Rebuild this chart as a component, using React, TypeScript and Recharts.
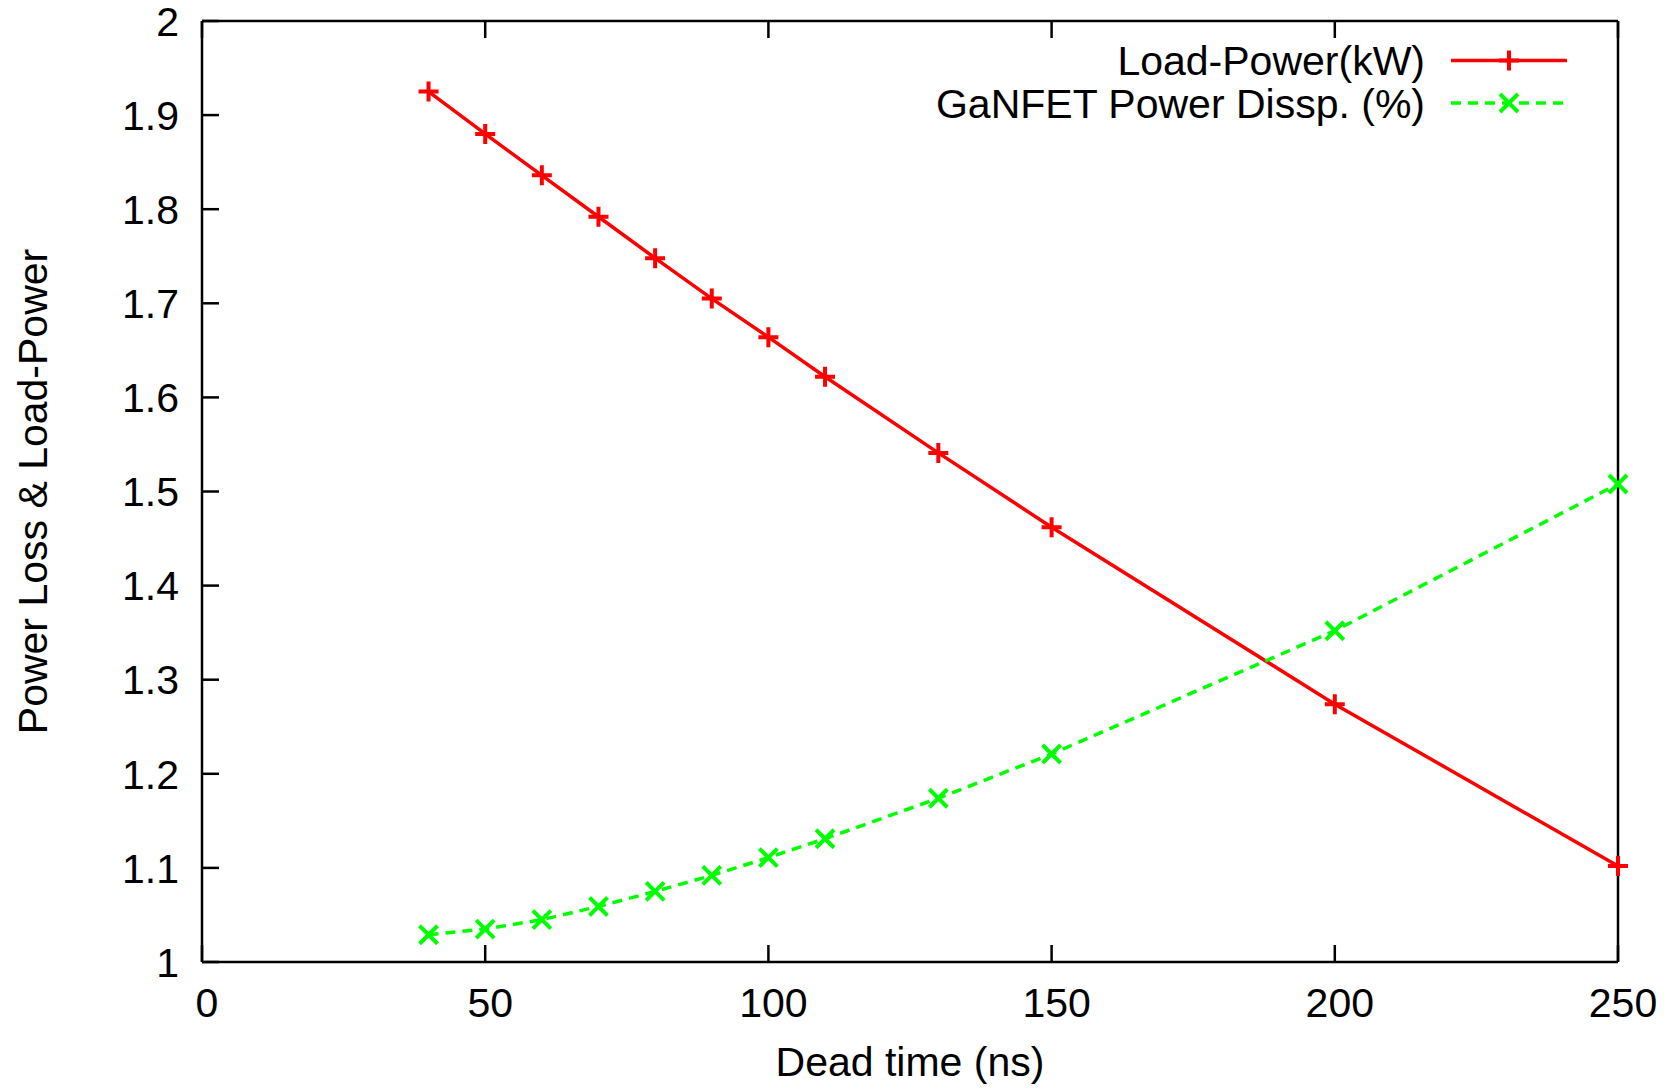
import React from 'react';
import { LineChart, Line, XAxis, YAxis, Legend } from 'recharts';

const deadTime = [40, 50, 60, 70, 80, 90, 100, 110, 130, 150, 200, 250];
const loadPower = [1.925, 1.880, 1.836, 1.792, 1.748, 1.705, 1.664, 1.622, 1.541, 1.462, 1.274, 1.102];
const ganfetDiss = [1.029, 1.035, 1.045, 1.059, 1.075, 1.092, 1.111, 1.131, 1.174, 1.221, 1.352, 1.508];

const xTicks = [0, 50, 100, 150, 200, 250];
const yTicks = [1, 1.1, 1.2, 1.3, 1.4, 1.5, 1.6, 1.7, 1.8, 1.9, 2];

const seriesNames = ['Load-Power(kW)', 'GaNFET Power Dissp. (%)'];
const seriesColors = ['#ff0000', '#00ff00'];

const data = deadTime.map((t, i) => ({ t, load: loadPower[i], gan: ganfetDiss[i] }));

const FONT = '"Liberation Sans", Arial, sans-serif';
const FS = 41;
const TICK = 17;
const LW = 3.5;

const Plus = ({ cx, cy, color }: any) => (
  <path d={`M${cx - 10},${cy}H${cx + 10}M${cx},${cy - 10}V${cy + 10}`} stroke={color} strokeWidth={4} fill="none" />
);
const Cross = ({ cx, cy, color }: any) => (
  <path d={`M${cx - 9},${cy - 9}L${cx + 9},${cy + 9}M${cx - 9},${cy + 9}L${cx + 9},${cy - 9}`} stroke={color} strokeWidth={4} fill="none" />
);

const LeftTick = ({ x, y, payload }: any) => (
  <g>
    <line x1={x} x2={x + TICK} y1={y} y2={y} stroke="#000" strokeWidth={2.5} />
    <text x={x - 23} y={y} dy="0.36em" textAnchor="end" fontFamily={FONT} fontSize={FS} fill="#000">
      {String(payload.value)}
    </text>
  </g>
);
const RightTick = ({ x, y }: any) => <line x1={x} x2={x - TICK} y1={y} y2={y} stroke="#000" strokeWidth={2.5} />;
const BottomTick = ({ x, y, payload }: any) => (
  <g>
    <line x1={x} x2={x} y1={y} y2={y - TICK} stroke="#000" strokeWidth={2.5} />
    <text x={x + 5} y={y + 55} textAnchor="middle" fontFamily={FONT} fontSize={FS} fill="#000">
      {String(payload.value)}
    </text>
  </g>
);
const TopTick = ({ x, y }: any) => <line x1={x} x2={x} y1={y} y2={y + TICK} stroke="#000" strokeWidth={2.5} />;

const LegendBox = () => (
  <svg width={600} height={90} style={{ overflow: 'visible' }}>
    {seriesNames.map((name, i) => {
      const cy = 22.5 + i * 42.5;
      return (
        <g key={name}>
          <text x={425} y={cy} dy="0.36em" textAnchor="end" fontFamily={FONT} fontSize={FS} fill="#000">{name}</text>
          <line x1={451} x2={567} y1={cy} y2={cy} stroke={seriesColors[i]} strokeWidth={LW} strokeDasharray={i === 1 ? '10 7' : undefined} />
          {i === 0 ? <Plus cx={509} cy={cy} color={seriesColors[i]} /> : <Cross cx={509} cy={cy} color={seriesColors[i]} />}
        </g>
      );
    })}
  </svg>
);

export default function App() {
  return (
    <div style={{ position: 'absolute', left: 0, top: 0, width: 1665, height: 1088, background: '#fff' }}>
      <LineChart width={1665} height={1088} data={data} margin={{ top: 20, right: 46, bottom: 0, left: 0 }}>
        <XAxis
          dataKey="t"
          type="number"
          domain={[0, 250]}
          ticks={xTicks}
          height={126}
          tickSize={0}
          tickMargin={0}
          tickLine={false}
          tick={<BottomTick />}
          axisLine={{ stroke: '#000', strokeWidth: 2.5 }}
          label={{ value: 'Dead time (ns)', position: 'insideBottom', offset: 12, style: { fontFamily: FONT, fontSize: FS, fill: '#000' } }}
        />
        <XAxis
          xAxisId="top"
          orientation="top"
          dataKey="t"
          type="number"
          domain={[0, 250]}
          ticks={xTicks}
          height={1}
          tickSize={0}
          tickMargin={0}
          tickLine={false}
          tick={<TopTick />}
          axisLine={{ stroke: '#000', strokeWidth: 2.5 }}
        />
        <YAxis
          type="number"
          domain={[1, 2]}
          ticks={yTicks}
          width={202}
          tickSize={0}
          tickMargin={0}
          tickLine={false}
          tick={<LeftTick />}
          axisLine={{ stroke: '#000', strokeWidth: 2.5 }}
          label={{ value: 'Power Loss & Load-Power', angle: -90, position: 'insideLeft', offset: 32, style: { textAnchor: 'middle', fontFamily: FONT, fontSize: FS, fill: '#000' } }}
        />
        <YAxis
          yAxisId="right"
          orientation="right"
          type="number"
          domain={[1, 2]}
          ticks={yTicks}
          width={1}
          tickSize={0}
          tickMargin={0}
          tickLine={false}
          tick={<RightTick />}
          axisLine={{ stroke: '#000', strokeWidth: 2.5 }}
        />
        <Legend
          layout="vertical"
          align="center"
          verticalAlign="middle"
          wrapperStyle={{ left: 1000, top: 38, width: 600, height: 90 }}
          content={<LegendBox />}
        />
        <Line
          type="linear"
          dataKey="load"
          name={seriesNames[0]}
          stroke={seriesColors[0]}
          strokeWidth={LW}
          dot={(p: any) => <Plus key={`p${p.index}`} cx={p.cx} cy={p.cy} color={seriesColors[0]} />}
          activeDot={false}
          isAnimationActive={false}
        />
        <Line
          type="linear"
          dataKey="gan"
          name={seriesNames[1]}
          stroke={seriesColors[1]}
          strokeWidth={LW}
          strokeDasharray="10 7"
          dot={(p: any) => <Cross key={`c${p.index}`} cx={p.cx} cy={p.cy} color={seriesColors[1]} />}
          activeDot={false}
          isAnimationActive={false}
        />
      </LineChart>
    </div>
  );
}
